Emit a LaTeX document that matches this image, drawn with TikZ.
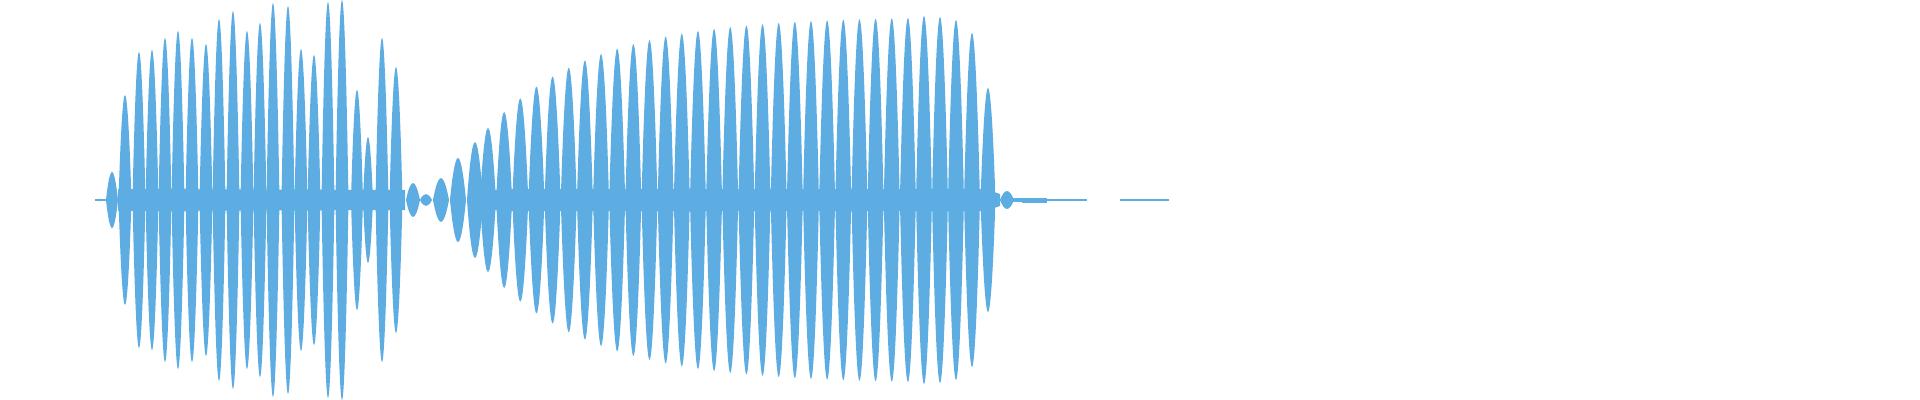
\documentclass[tikz,border=0pt]{standalone}
\definecolor{wave}{RGB}{93,173,226}
\begin{document}
\begin{tikzpicture}[x=0.01cm,y=-0.01cm]
\useasboundingbox (0,0) rectangle (1920,400);
\newcommand{\wlobe}[3]{% x amp halfwidth
  \fill[wave] ({#1-#3},200) .. controls ({#1-#3*0.7},{200-#2*0.6}) and ({#1-#3*0.35},{200-#2}) .. (#1,{200-#2})
   .. controls ({#1+#3*0.35},{200-#2}) and ({#1+#3*0.7},{200-#2*0.6}) .. ({#1+#3},200)
   .. controls ({#1+#3*0.7},{200+#2*0.6}) and ({#1+#3*0.35},{200+#2}) .. (#1,{200+#2})
   .. controls ({#1-#3*0.35},{200+#2}) and ({#1-#3*0.7},{200+#2*0.6}) .. ({#1-#3},200) -- cycle;}
\fill[wave] (95,199) rectangle (106,201);
\fill[wave] (118,189) -- (405,190) -- (405,210) -- (118,211) -- cycle;
\fill[wave] (480,194) -- (500,189) -- (985,189) -- (1000,194) -- (1000,206) -- (985,211) -- (500,211) -- (480,206) -- cycle;
\foreach \x/\a/\w in {112/28/6,125/105/6.5,139/148/6.5,152/150/6.5,165/162/6.5,178/169/6.5,192/162/6.5,206/156/6.5,219/181/6.5,233/189/6.5,247/169/6.5,260/177/6.5,273/197/6.5,288/194/6.5,301/151/6.5,314/145/6.5,328/198/6.5,342/200/6.5,357/110/6,368/63/5,382/162/6.5,396/133/6.5,413/17/7,426/6/6,441/22/8,458/42/8,475/58/8,488/72/8}
  {\wlobe{\x}{\a}{\w}}
\foreach \i in {1,...,26}{
  \pgfmathsetmacro{\xx}{488+\i*16.15}
  \pgfmathsetmacro{\aa}{184-112*exp(-\i/6.5)}
  \wlobe{\xx}{\aa}{8}}
\foreach \x/\a/\w in {924/184/8,940/183/8,956/180/8,972/167/8,988/112/7.5,1007/9/7}
  {\wlobe{\x}{\a}{\w}}
\fill[wave] (1012,198) rectangle (1040,202);
\fill[wave] (1022,197.5) rectangle (1047,202.5);
\fill[wave] (1047,198.8) rectangle (1065,201.2);
\fill[wave] (1065,199.4) rectangle (1087,200.6);
\fill[wave] (1120,199.3) rectangle (1169,200.7);
\end{tikzpicture}
\end{document}
